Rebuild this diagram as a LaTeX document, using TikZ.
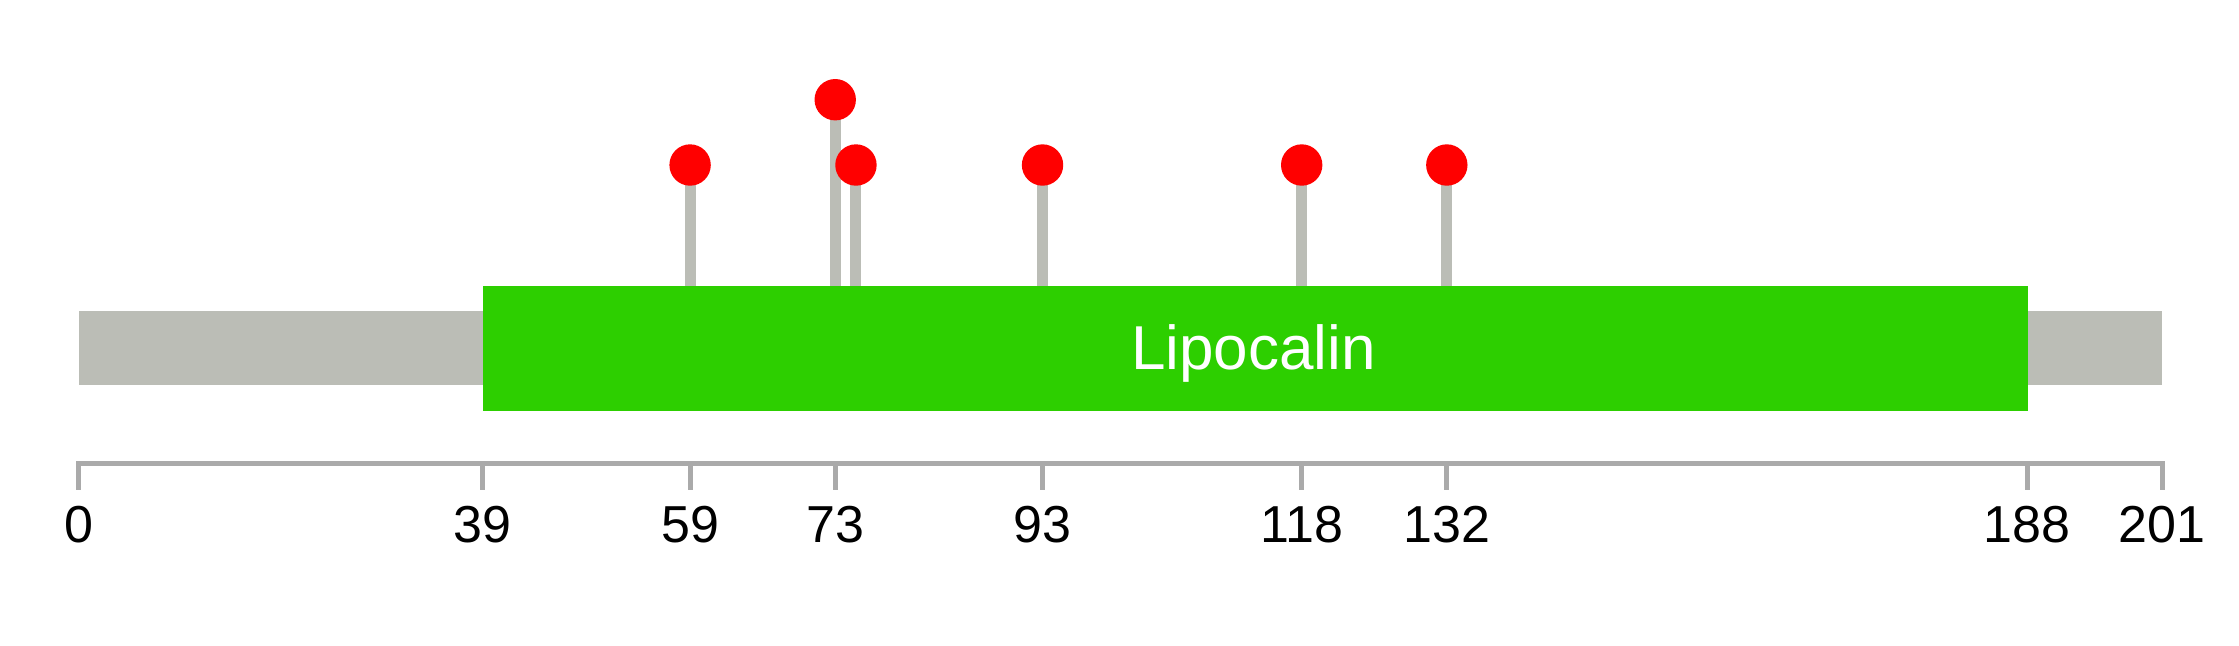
\documentclass[tikz,border=0pt]{standalone}
\usepackage{fontspec}
\setmainfont{Liberation Sans}
\definecolor{bargray}{HTML}{BBBDB6}
\definecolor{domgreen}{HTML}{2DCF00}
\definecolor{axgray}{HTML}{AAAAAA}
\definecolor{dotred}{HTML}{FF0000}
\begin{document}
\begin{tikzpicture}[x=0.5pt,y=-0.5pt,
  stalk/.style={draw=bargray,line width=5.5pt},
  dot/.style={circle,fill=dotred,minimum size=20.7pt,inner sep=0pt},
  tickline/.style={draw=axgray,line width=2.5pt},
  ticklabel/.style={anchor=base,font=\fontsize{26pt}{31pt}\selectfont,inner sep=0pt},
  ]
\useasboundingbox (0,0) rectangle (2239,645);
\pgfmathsetmacro{\sc}{10.366}
% backbone
\fill[bargray] (78.5,311) rectangle (2162,384.5);
% stalks
\foreach \u/\h/\n in {59/165/a,73/99.7/b,75/165/c,93/165/d,118/165/e,132/165/f}{
  \pgfmathsetmacro{\xx}{78.5+\sc*\u}
  \coordinate (s\n) at (\xx,285.5);
  \coordinate (t\n) at (\xx,\h);
}
\foreach \n in {a,b,c,d,e,f}{\draw[stalk] (s\n) -- (t\n);}
% domain
\node[fill=domgreen,inner sep=0pt,minimum width=772.35pt,minimum height=62.75pt,anchor=north west] (dom) at (482.8,285.5) {};
\node[text=white,font=\fontsize{31pt}{36pt}\selectfont,anchor=base,inner sep=0pt] (lab) at (1253.5,369.3) {Lipocalin};
% dots
\foreach \n in {a,b,c,d,e,f}{\node[dot] (d\n) at (t\n) {};}
% axis
\coordinate (ax0) at (78.5,463.3);
\coordinate (ax1) at (2162,463.3);
\draw[draw=axgray,line width=2.75pt] (ax0) -- (ax1);
\foreach \u/\m in {0/k0,39/k1,59/k2,73/k3,93/k4,118/k5,132/k6,188/k7,201/k8}{
  \pgfmathsetmacro{\xx}{78.5+\sc*\u}
  \coordinate (\m a) at (\xx,461);
  \coordinate (\m b) at (\xx,489.5);
  \draw[tickline] (\m a) -- (\m b);
  \node[ticklabel] (\m l) at (\xx,542.5) {\u};
}
\end{tikzpicture}
\end{document}
